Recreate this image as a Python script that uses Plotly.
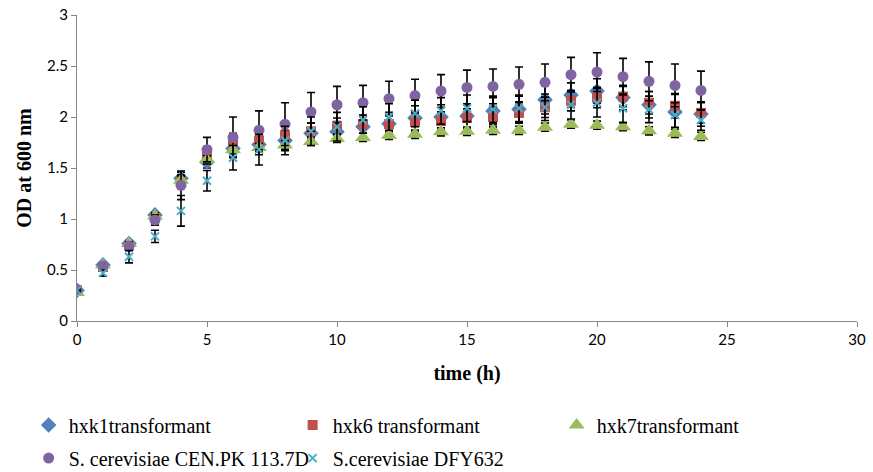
import plotly.graph_objects as go

# Sampling times (h)
time_h = list(range(0, 25))

# OD600 means and error bars per strain
hxk1_od = [0.30, 0.55, 0.76, 1.04, 1.40, 1.56, 1.69, 1.73, 1.77, 1.84, 1.855, 1.905, 1.935, 1.99, 2.00,
           2.01, 2.06, 2.075, 2.17, 2.215, 2.255, 2.19, 2.12, 2.05, 2.03]
hxk1_err = [0.01, 0.02, 0.03, 0.03, 0.06, 0.06, 0.08, 0.10, 0.10, 0.10, 0.10, 0.11, 0.11, 0.12, 0.12,
            0.12, 0.13, 0.13, 0.14, 0.12, 0.12, 0.12, 0.13, 0.17, 0.12]

hxk6_od = [0.30, 0.53, 0.74, 1.02, 1.37, 1.63, 1.76, 1.77, 1.82, 1.86, 1.91, 1.93, 1.93, 1.95, 1.96,
           1.99, 2.00, 2.04, 2.095, 2.16, 2.19, 2.20, 2.14, 2.11, 2.04]
hxk6_err = [0.01, 0.02, 0.03, 0.03, 0.06, 0.08, 0.08, 0.08, 0.08, 0.08, 0.08, 0.09, 0.09, 0.09, 0.09,
            0.09, 0.10, 0.10, 0.10, 0.10, 0.10, 0.10, 0.11, 0.12, 0.10]

hxk7_od = [0.28, 0.55, 0.76, 1.03, 1.38, 1.58, 1.68, 1.70, 1.725, 1.76, 1.79, 1.80, 1.82, 1.83, 1.855,
           1.86, 1.87, 1.87, 1.90, 1.93, 1.92, 1.905, 1.865, 1.84, 1.81]
hxk7_err = [0.01, 0.02, 0.02, 0.03, 0.04, 0.04, 0.04, 0.04, 0.04, 0.04, 0.04, 0.04, 0.04, 0.04, 0.04,
            0.04, 0.04, 0.04, 0.04, 0.04, 0.04, 0.04, 0.04, 0.04, 0.04]

cenpk_od = [0.31, 0.54, 0.735, 0.99, 1.33, 1.68, 1.80, 1.87, 1.93, 2.05, 2.12, 2.14, 2.18, 2.21, 2.255,
            2.29, 2.30, 2.32, 2.34, 2.415, 2.44, 2.395, 2.35, 2.31, 2.26]
cenpk_err = [0.02, 0.03, 0.04, 0.05, 0.14, 0.12, 0.20, 0.19, 0.21, 0.19, 0.18, 0.17, 0.17, 0.16, 0.16,
             0.17, 0.17, 0.17, 0.18, 0.17, 0.19, 0.18, 0.19, 0.21, 0.19]

dfy632_od = [0.30, 0.47, 0.63, 0.83, 1.08, 1.375, 1.60, 1.68, 1.77, 1.86, 1.905, 1.97, 2.00, 2.035, 2.06,
             2.085, 2.075, 2.085, 2.095, 2.12, 2.14, 2.085, 2.075, 2.02, 1.97]
dfy632_err = [0.01, 0.03, 0.06, 0.06, 0.15, 0.10, 0.12, 0.15, 0.14, 0.14, 0.14, 0.13, 0.13, 0.13, 0.13,
              0.13, 0.13, 0.13, 0.13, 0.14, 0.14, 0.14, 0.13, 0.12, 0.10]

x_ticks = [0, 5, 10, 15, 20, 25, 30]
y_ticks = [0, 0.5, 1, 1.5, 2, 2.5, 3]

series = [
    ("hxk1transformant", hxk1_od, hxk1_err, "diamond", 12, "#4F81BD", "legend"),
    ("hxk6 transformant", hxk6_od, hxk6_err, "square", 10, "#C0504D", "legend"),
    ("hxk7transformant", hxk7_od, hxk7_err, "triangle-up", 14, "#9BBB59", "legend"),
    ("S. cerevisiae CEN.PK 113.7D", cenpk_od, cenpk_err, "circle", 11, "#8064A2", "legend2"),
    ("S.cerevisiae DFY632", dfy632_od, dfy632_err, "x-thin", 8, "#4BACC6", "legend2"),
]

fig = go.Figure()
for name, od, err, sym, size, color, leg in series:
    marker = dict(symbol=sym, size=size, color=color)
    if sym == "x-thin":
        marker["line"] = dict(color=color, width=2)
    fig.add_trace(go.Scatter(
        x=time_h, y=od, name=name, mode="markers", marker=marker,
        error_y=dict(type="data", array=err, visible=True, color="black", thickness=1.6, width=4),
        legend=leg,
    ))

serif = "Liberation Serif"
sans = "Lato"
axis_common = dict(
    showgrid=False, zeroline=False, showline=True, linecolor="#868686", linewidth=1,
    ticks="outside", ticklen=5, tickcolor="#868686",
    tickfont=dict(family=sans, size=15, color="black"),
)

legend_common = dict(
    orientation="h", xanchor="left", yanchor="middle",
    font=dict(family=serif, size=20, color="black"),
    entrywidth=219, entrywidthmode="pixels", bgcolor="rgba(0,0,0,0)",
    itemwidth=30,
)

fig.update_layout(
    width=873, height=472,
    margin=dict(l=77, r=16, t=15, b=151, autoexpand=False),
    paper_bgcolor="white", plot_bgcolor="white",
    xaxis=dict(range=[0, 30], tickvals=x_ticks, **axis_common,
               title=dict(text="<b>time (h)</b>", font=dict(family=serif, size=20, color="black"), standoff=18)),
    yaxis=dict(range=[0, 3], tickvals=y_ticks, **axis_common,
               title=dict(text="<b>OD at 600 nm</b>", font=dict(family=serif, size=20, color="black"), standoff=10)),
    legend=dict(x=-0.062, y=-0.34, **legend_common),
    legend2=dict(x=-0.062, y=-0.448, **legend_common),
    showlegend=True,
)

fig.write_html("out.html")
